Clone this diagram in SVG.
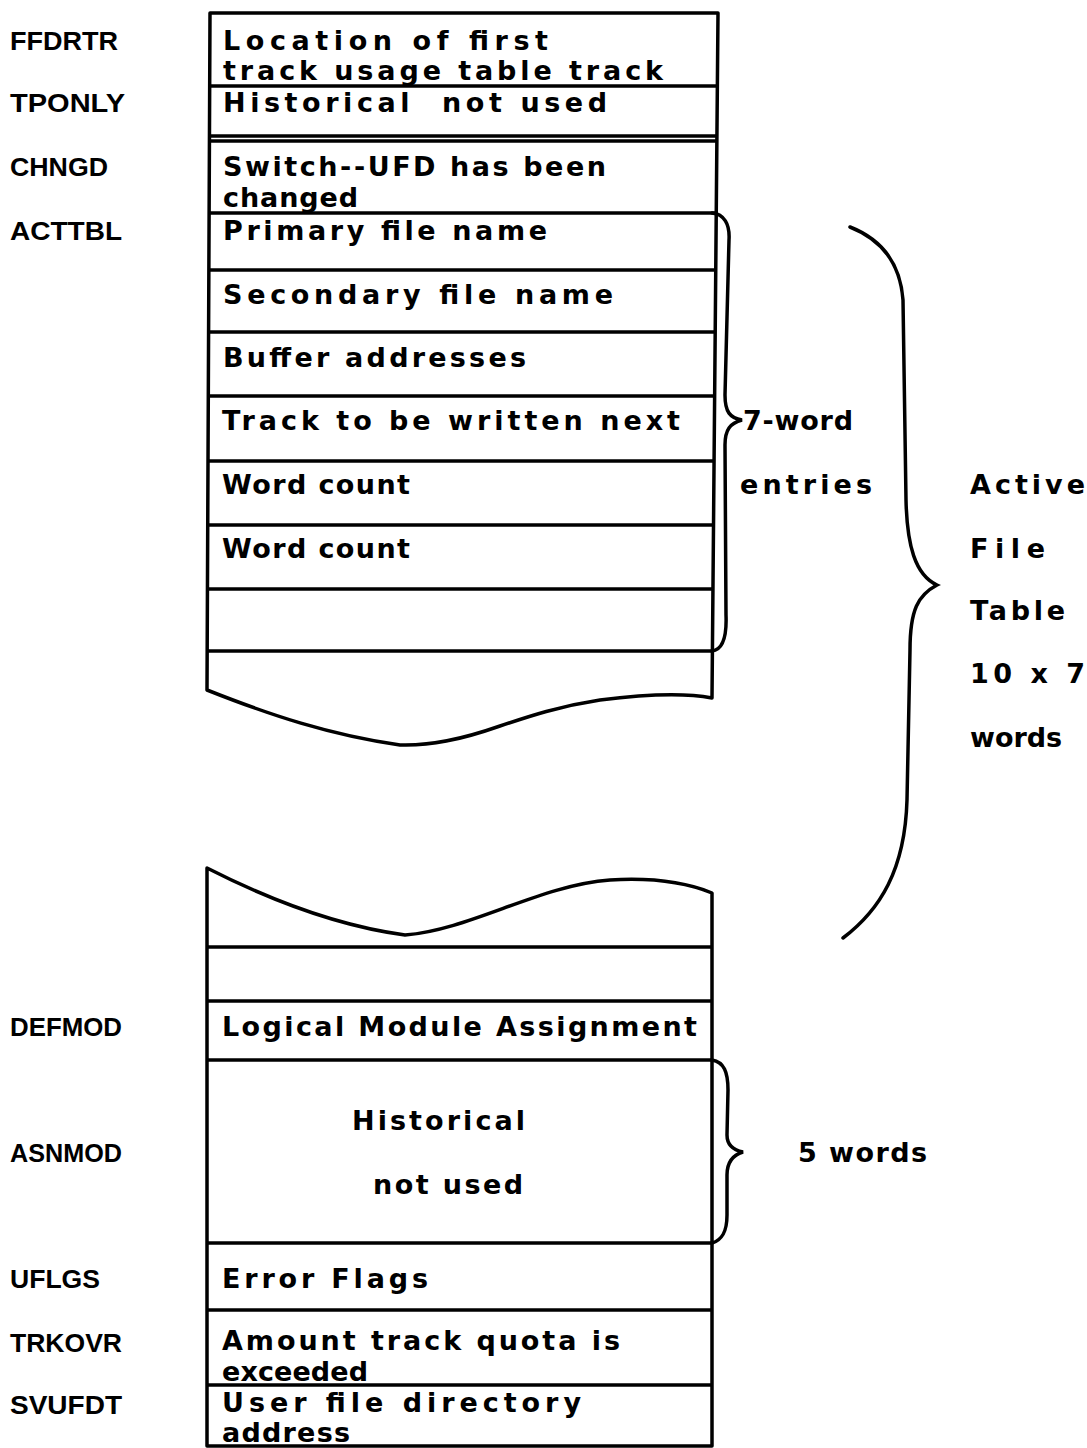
<svg xmlns="http://www.w3.org/2000/svg" width="1087" height="1448" viewBox="0 0 1087 1448">
<style>
.t{font-family:"DejaVu Sans",sans-serif;font-weight:bold;font-size:27px;fill:#000}
.l{font-family:"Liberation Sans",sans-serif;font-weight:bold;font-size:26px;fill:#000}
.o{fill:none;stroke:#000;stroke-width:3.5;stroke-linejoin:round;stroke-linecap:round}
.h{stroke:#000;stroke-width:3.5}
.b{fill:none;stroke:#000;stroke-width:3.5;stroke-linecap:round}
</style>
<rect width="1087" height="1448" fill="#fff"/>
<g id="outline">
<path class="o" d="M210,13 H718 L712,698 C680,692 640,695 600,700 C560,706 530,716 500,726 C460,740 430,746 400,745 C330,735 270,715 207,690 Z"/>
<path class="o" d="M207,1446 L207,868 C260,895 330,925 405,935 C470,930 540,885 610,880 C660,877 690,884 712,893 L712,1446 Z"/>
</g>
<g id="rows">
<line class="h" x1="210" y1="86" x2="717" y2="86"/>
<line class="h" x1="210" y1="136" x2="717" y2="136"/>
<line class="h" x1="210" y1="141" x2="717" y2="141"/>
<line class="h" x1="209" y1="213" x2="716" y2="213"/>
<line class="h" x1="209" y1="270" x2="716" y2="270"/>
<line class="h" x1="209" y1="332" x2="715" y2="332"/>
<line class="h" x1="209" y1="396" x2="715" y2="396"/>
<line class="h" x1="208" y1="461" x2="714" y2="461"/>
<line class="h" x1="208" y1="525" x2="714" y2="525"/>
<line class="h" x1="208" y1="589" x2="713" y2="589"/>
<line class="h" x1="207" y1="651" x2="713" y2="651"/>
<line class="h" x1="207" y1="947" x2="712" y2="947"/>
<line class="h" x1="207" y1="1001" x2="712" y2="1001"/>
<line class="h" x1="207" y1="1060" x2="712" y2="1060"/>
<line class="h" x1="207" y1="1243" x2="712" y2="1243"/>
<line class="h" x1="207" y1="1310" x2="712" y2="1310"/>
<line class="h" x1="207" y1="1385" x2="712" y2="1385"/>
</g>
<g id="FFDRTR">
<text class="l" x="10" y="50" textLength="108" lengthAdjust="spacingAndGlyphs">FFDRTR</text>
<text class="t" x="223" y="50" textLength="325" lengthAdjust="spacing">Location of first</text>
<text class="t" x="223" y="80" textLength="440" lengthAdjust="spacing">track usage table track</text>
</g>
<g id="TPONLY">
<text class="l" x="10" y="112" textLength="115" lengthAdjust="spacingAndGlyphs">TPONLY</text>
<text class="t" x="223" y="112" textLength="384" lengthAdjust="spacing" xml:space="preserve">Historical  not used</text>
</g>
<g id="CHNGD">
<text class="l" x="10" y="176" textLength="98" lengthAdjust="spacingAndGlyphs">CHNGD</text>
<text class="t" x="223" y="176" textLength="383" lengthAdjust="spacing">Switch--UFD has been</text>
<text class="t" x="223" y="207" textLength="135" lengthAdjust="spacing">changed</text>
</g>
<g id="ACTTBL">
<text class="l" x="10" y="240" textLength="112" lengthAdjust="spacingAndGlyphs">ACTTBL</text>
<text class="t" x="223" y="240" textLength="324" lengthAdjust="spacing">Primary file name</text>
</g>
<g id="secondary">
<text class="t" x="223" y="304" textLength="390" lengthAdjust="spacing">Secondary file name</text>
</g>
<g id="buffer">
<text class="t" x="223" y="367" textLength="303" lengthAdjust="spacing">Buffer addresses</text>
</g>
<g id="track">
<text class="t" x="222" y="430" textLength="458" lengthAdjust="spacing">Track to be written next</text>
</g>
<g id="wordcount1">
<text class="t" x="222" y="494" textLength="188" lengthAdjust="spacing">Word count</text>
</g>
<g id="wordcount2">
<text class="t" x="222" y="558" textLength="188" lengthAdjust="spacing">Word count</text>
</g>
<g id="DEFMOD">
<text class="l" x="10" y="1036" textLength="112" lengthAdjust="spacingAndGlyphs">DEFMOD</text>
<text class="t" x="222" y="1036" textLength="475" lengthAdjust="spacing">Logical Module Assignment</text>
</g>
<g id="ASNMOD">
<text class="l" x="10" y="1162" textLength="112" lengthAdjust="spacingAndGlyphs">ASNMOD</text>
<text class="t" x="352" y="1130" textLength="173" lengthAdjust="spacing">Historical</text>
<text class="t" x="373" y="1194" textLength="150" lengthAdjust="spacing">not used</text>
</g>
<g id="UFLGS">
<text class="l" x="10" y="1288" textLength="90" lengthAdjust="spacingAndGlyphs">UFLGS</text>
<text class="t" x="222" y="1288" textLength="206" lengthAdjust="spacing">Error Flags</text>
</g>
<g id="TRKOVR">
<text class="l" x="10" y="1352" textLength="112" lengthAdjust="spacingAndGlyphs">TRKOVR</text>
<text class="t" x="222" y="1350" textLength="398" lengthAdjust="spacing">Amount track quota is</text>
<text class="t" x="222" y="1381" textLength="146" lengthAdjust="spacing">exceeded</text>
</g>
<g id="SVUFDT">
<text class="l" x="10" y="1414" textLength="112" lengthAdjust="spacingAndGlyphs">SVUFDT</text>
<text class="t" x="222" y="1412" textLength="359" lengthAdjust="spacing">User file directory</text>
<text class="t" x="222" y="1442" textLength="128" lengthAdjust="spacing">address</text>
</g>
<g id="braces">
<path class="b" d="M712,213 C724,214 730,224 729,240 L725,395 C725,412 730,418 742,420 C730,423 725,430 725,445 L726,615 C727,640 722,650 712,651"/>
<path class="b" d="M850,227 C878,238 900,260 903,300 L906,500 C907,545 915,575 937,585 C918,595 910,610 910,650 L907,800 C905,870 880,910 843,938"/>
<path class="b" d="M712,1060 C724,1062 728,1072 728,1090 L727,1135 C727,1145 733,1150 743,1152 C733,1155 727,1162 727,1175 L727,1215 C727,1232 722,1240 712,1243"/>
</g>
<g id="annotations">
<text class="t" x="743" y="430" textLength="110" lengthAdjust="spacing">7-word</text>
<text class="t" x="740" y="494" textLength="132" lengthAdjust="spacing">entries</text>
<text class="t" x="970" y="494" textLength="115" lengthAdjust="spacing">Active</text>
<text class="t" x="970" y="558" textLength="75" lengthAdjust="spacing">File</text>
<text class="t" x="970" y="620" textLength="95" lengthAdjust="spacing">Table</text>
<text class="t" x="970" y="683" textLength="115" lengthAdjust="spacing" xml:space="preserve">10 x 7</text>
<text class="t" x="970" y="747" textLength="92" lengthAdjust="spacing">words</text>
<text class="t" x="798" y="1162" textLength="129" lengthAdjust="spacing">5 words</text>
</g>
</svg>
